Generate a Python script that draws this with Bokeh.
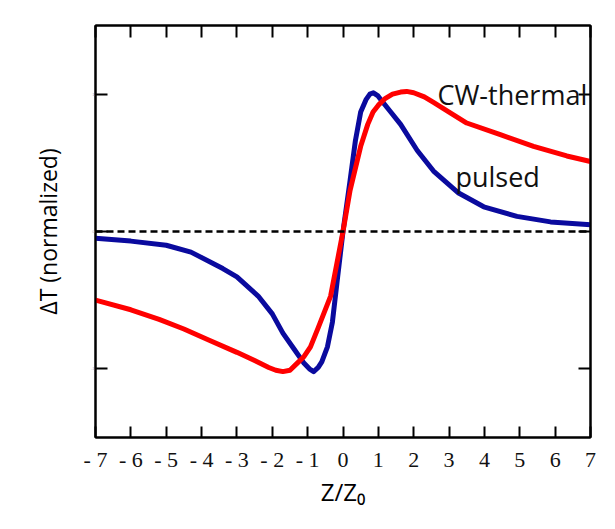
from bokeh.plotting import figure
from bokeh.models import LinearAxis, FixedTicker, Span, Label, Range1d
from bokeh.embed import file_html
from bokeh.resources import INLINE

# pulsed (blue)
pulsed_x = [-7, -6, -5, -4.3, -3.4, -3, -2.4, -2, -1.7, -1.4, -1.1, -0.95, -0.83, -0.7, -0.6, -0.44, -0.3,
            -0.16, 0, 0.2, 0.35, 0.5, 0.65, 0.76, 0.86, 0.98, 1.1, 1.35, 1.63, 2.1, 2.56, 3.27, 3.98, 4.92, 5.87, 7]
pulsed_y = [-0.05, -0.07, -0.10, -0.15, -0.27, -0.33, -0.47, -0.60, -0.74, -0.85, -0.96, -1.00, -1.02, -0.99, -0.95, -0.84, -0.66,
            -0.35, 0.0, 0.37, 0.66, 0.87, 0.96, 1.0, 1.01, 0.99, 0.95, 0.87, 0.78, 0.59, 0.44, 0.28, 0.18, 0.11, 0.07, 0.05]

# CW-thermal (red)
cw_x = [-7, -6, -5.2, -4.5, -3.8, -3, -2.5, -2.1, -1.9, -1.7, -1.5, -1.3, -1.1, -0.92, -0.7, -0.35, 0, 0.2, 0.5, 0.7, 0.85,
        1.0, 1.2, 1.4, 1.63, 1.8, 2.0, 2.3, 2.56, 3.0, 3.5, 4.45, 5.39, 6.33, 7]
cw_y = [-0.50, -0.57, -0.64, -0.71, -0.79, -0.88, -0.94, -0.99, -1.01, -1.02, -1.01, -0.96, -0.91, -0.84, -0.70, -0.47, 0.0, 0.30, 0.62, 0.78, 0.87,
        0.92, 0.97, 1.0, 1.015, 1.02, 1.01, 0.98, 0.94, 0.87, 0.79, 0.705, 0.62, 0.55, 0.51]

x_ticks = list(range(-7, 8))
x_tick_labels = {t: ("- " + str(-t)) if t < 0 else str(t) for t in x_ticks}
y_ticks = [-1, 0, 1]
y_tick_labels = {-1: "-1", 0: "0", 1: "1"}

p = figure(width=607, height=521, x_range=Range1d(-7, 7), y_range=Range1d(-1.5, 1.5),
           output_backend="svg", toolbar_location=None,
           min_border_left=95, min_border_right=17, min_border_top=25, min_border_bottom=84)
p.xgrid.visible = False
p.ygrid.visible = False
p.outline_line_color = "black"
p.outline_line_width = 2
p.background_fill_color = "white"
p.border_fill_color = "white"

xa = p.xaxis[0]
xa.ticker = FixedTicker(ticks=x_ticks)
xa.major_label_overrides = x_tick_labels
xa.major_tick_in = 11
xa.major_tick_out = 0
xa.minor_tick_line_color = None
xa.major_tick_line_width = 2
xa.axis_line_width = 2
xa.major_label_text_font = "Liberation Serif"
xa.major_label_text_font_size = "22px"
xa.major_label_text_color = "#111111"
xa.major_label_standoff = 9
xa.axis_label = "Z/Z\u2080"
xa.axis_label_text_font = "Open Sans"
xa.axis_label_text_font_style = "normal"
xa.axis_label_text_font_size = "24px"
xa.axis_label_text_color = "black"
xa.axis_label_standoff = 0

ya = p.yaxis[0]
ya.ticker = FixedTicker(ticks=y_ticks)
ya.major_label_overrides = y_tick_labels
ya.major_tick_in = 12
ya.major_tick_out = 0
ya.minor_tick_line_color = None
ya.major_tick_line_width = 2
ya.axis_line_width = 2
ya.major_label_text_font_size = "4px"
ya.major_label_text_color = "#aab0c0"
ya.major_label_standoff = 1
ya.axis_label = "\u0394T (normalized)"
ya.axis_label_text_font = "Open Sans"
ya.axis_label_text_font_style = "normal"
ya.axis_label_text_font_size = "23px"
ya.axis_label_text_color = "black"
ya.axis_label_standoff = 24

top = LinearAxis(ticker=FixedTicker(ticks=x_ticks), major_tick_in=12, major_tick_out=0,
                 minor_tick_line_color=None, major_tick_line_width=2, axis_line_width=2,
                 major_label_overrides={t: "" for t in x_ticks}, major_label_text_color=None)
p.add_layout(top, "above")
right = LinearAxis(ticker=FixedTicker(ticks=y_ticks), major_tick_in=12, major_tick_out=0,
                   minor_tick_line_color=None, major_tick_line_width=2, axis_line_width=2,
                   major_label_overrides={t: "" for t in y_ticks}, major_label_text_color=None)
p.add_layout(right, "right")

p.add_layout(Span(location=0, dimension="width", line_dash="7 4", line_width=2.5, line_color="black"))

p.line(pulsed_x, pulsed_y, line_color="#0a0a9e", line_width=5, line_join="round")
p.line(cw_x, cw_y, line_color="#ff0000", line_width=5, line_join="round")

p.add_layout(Label(x=2.67, y=1.0, text="CW-thermal", text_baseline="middle",
                   text_font="Open Sans", text_font_size="27px", text_color="#111111"))
p.add_layout(Label(x=3.18, y=0.40, text="pulsed", text_baseline="middle",
                   text_font="Open Sans", text_font_size="27px", text_color="#111111"))

open("out.html", "w").write(file_html(p, INLINE))
